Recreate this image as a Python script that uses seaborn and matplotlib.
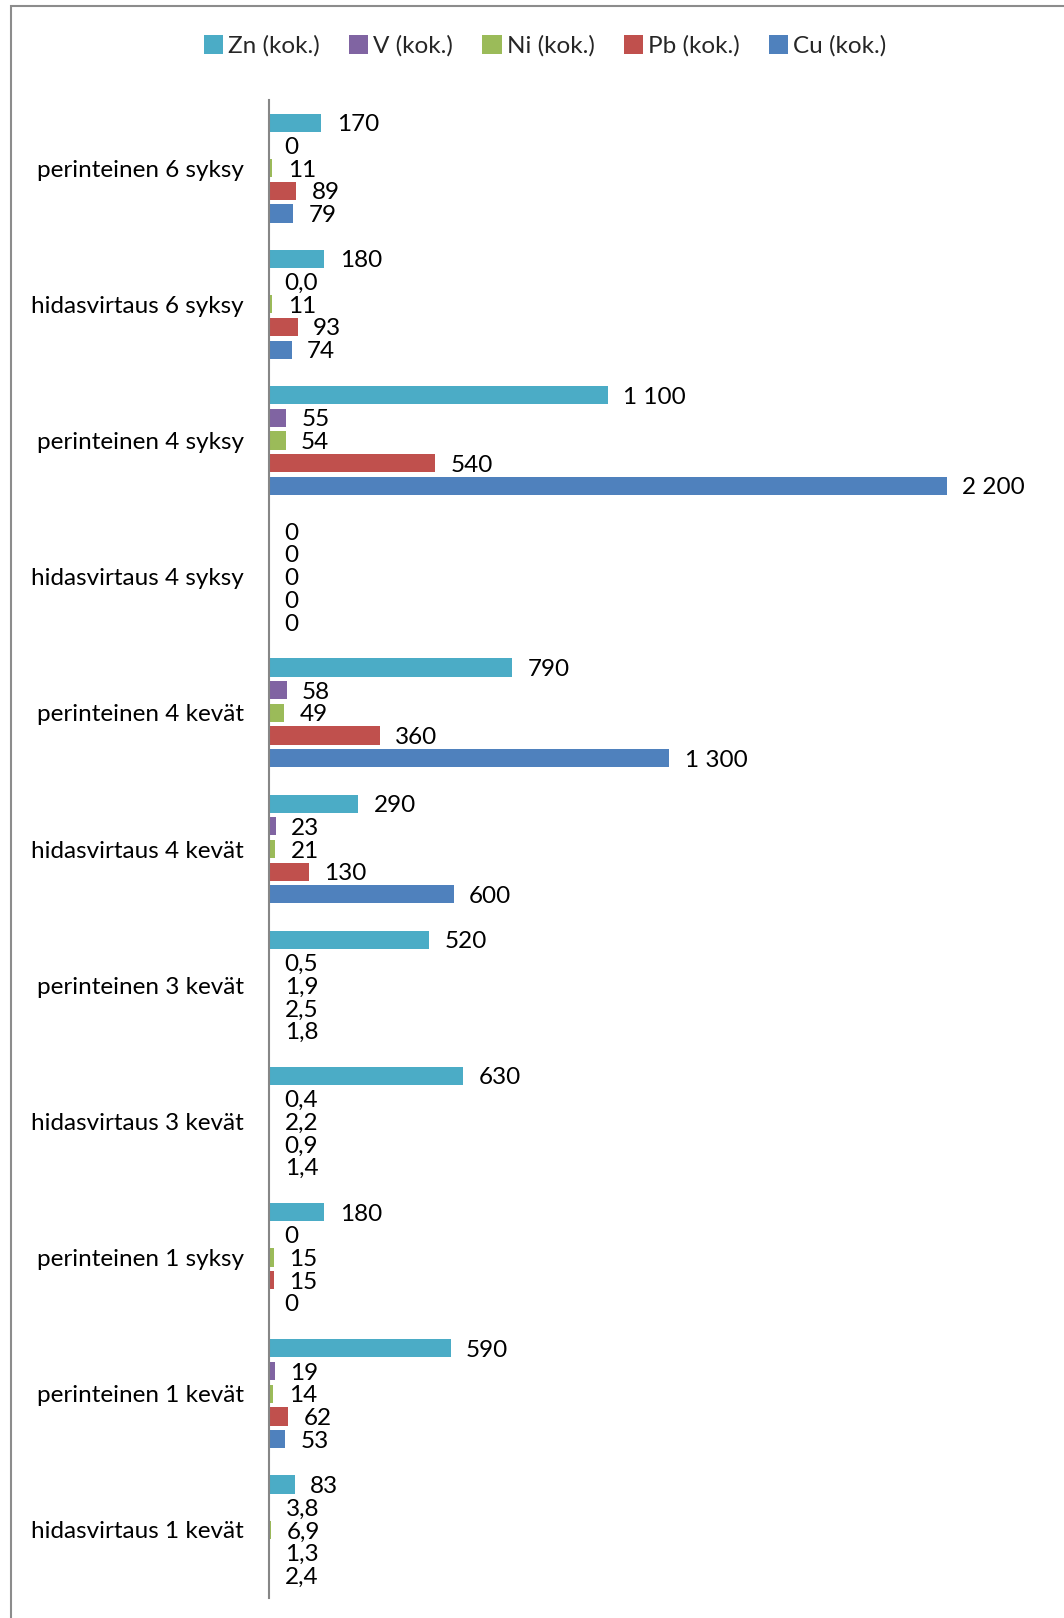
import matplotlib
matplotlib.use("Agg")
import matplotlib.pyplot as plt
from matplotlib.patches import Rectangle, Patch
import pandas as pd
import seaborn as sns

# Categories, top to bottom
categories = [
    "perinteinen 6 syksy", "hidasvirtaus 6 syksy", "perinteinen 4 syksy",
    "hidasvirtaus 4 syksy", "perinteinen 4 kevät", "hidasvirtaus 4 kevät",
    "perinteinen 3 kevät", "hidasvirtaus 3 kevät", "perinteinen 1 syksy",
    "perinteinen 1 kevät", "hidasvirtaus 1 kevät",
]
series = ["Zn (kok.)", "V (kok.)", "Ni (kok.)", "Pb (kok.)", "Cu (kok.)"]
colors = ["#4BACC6", "#8064A2", "#9BBB59", "#C0504D", "#4F81BD"]

# Values as printed (Finnish number format)
zn = ["170", "180", "1 100", "0", "790", "290", "520", "630", "180", "590", "83"]
v = ["0", "0,0", "55", "0", "58", "23", "0,5", "0,4", "0", "19", "3,8"]
ni = ["11", "11", "54", "0", "49", "21", "1,9", "2,2", "15", "14", "6,9"]
pb = ["89", "93", "540", "0", "360", "130", "2,5", "0,9", "15", "62", "1,3"]
cu = ["79", "74", "2 200", "0", "1 300", "600", "1,8", "1,4", "0", "53", "2,4"]

label_sets = [zn, v, ni, pb, cu]


def to_number(s):
    return float(s.replace(" ", "").replace(",", "."))


rows = []
for name, labels in zip(series, label_sets):
    for cat, s in zip(categories, labels):
        rows.append({"category": cat, "series": name, "value": to_number(s)})
df = pd.DataFrame(rows)

sns.set_theme(style="white")
plt.rcParams["font.family"] = ["Lato", "DejaVu Sans"]

FS = 17.5
W, H = 1064, 1618
fig = plt.figure(figsize=(W / 100, H / 100), dpi=100)
ax = fig.add_axes([269 / W, 1 - 1598 / H, (1039 - 269) / W, (1598 - 100) / H])

sns.barplot(
    data=df, y="category", x="value", hue="series", order=categories,
    hue_order=series, palette=colors, saturation=1, orient="h",
    width=5 / 6, gap=0.2, linewidth=0, errorbar=None, legend=False, ax=ax,
)

for container, labels in zip(ax.containers, label_sets):
    t = ax.bar_label(container, labels=labels, padding=11, fontsize=FS,
                     color="black")
    for txt in t:
        txt.set_va("center_baseline")

ax.set_xlim(0, 2500)
ax.set_ylim(len(categories) - 0.5, -0.5)
ax.set_xlabel("")
ax.set_ylabel("")
ax.set_xticks([])
ax.tick_params(axis="y", length=0, pad=18, labelsize=FS, labelcolor="black")
for side in ["top", "right", "bottom"]:
    ax.spines[side].set_visible(False)
ax.spines["left"].set_color("#868686")
ax.spines["left"].set_linewidth(1.5)

handles = [Patch(facecolor=c, edgecolor="none") for c in colors]
fig.legend(
    handles, series, loc="center", bbox_to_anchor=(545 / W, 1 - 46 / H),
    ncol=5, frameon=False, fontsize=FS, handlelength=0.8, handleheight=0.8,
    handletextpad=0.2, columnspacing=1.2,
)

# Chart area border
fig.patches.append(Rectangle((11 / W, -0.1), 1.2, 1 - 6 / H + 0.1,
                             transform=fig.transFigure, fill=False,
                             edgecolor="#8c8c8c", linewidth=1.5))

fig.savefig("out.png", dpi=100)
